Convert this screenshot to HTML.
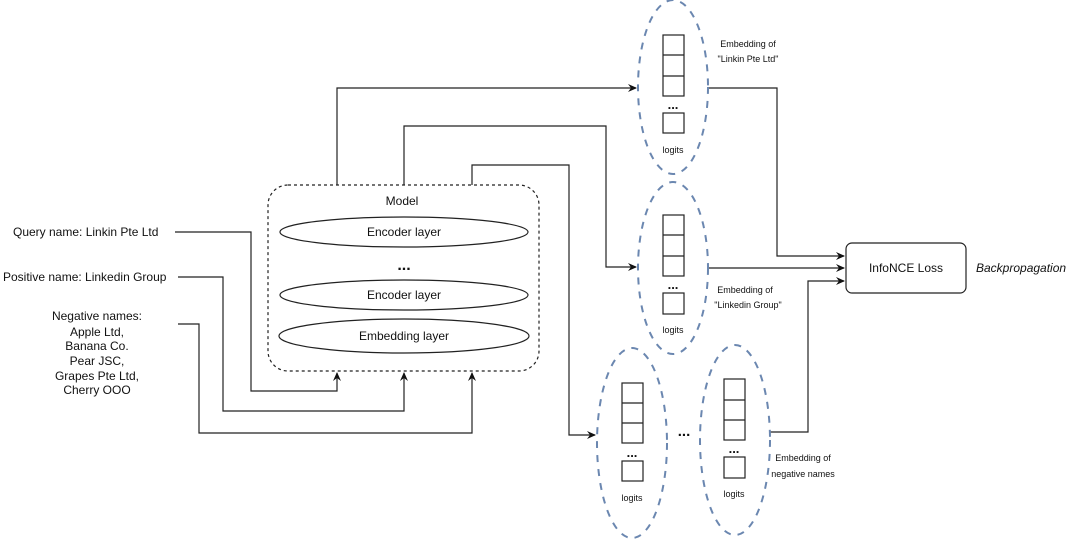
<!DOCTYPE html>
<html><head><meta charset="utf-8"><style>
html,body{margin:0;padding:0;background:#fff;width:1080px;height:540px;overflow:hidden}
svg{display:block}
text{font-family:"Liberation Sans",sans-serif;fill:#111}
</style></head><body>
<svg width="1080" height="540" viewBox="0 0 1080 540" xmlns="http://www.w3.org/2000/svg">
<defs>
<marker id="a" markerWidth="10" markerHeight="10" refX="8" refY="4" orient="auto" markerUnits="userSpaceOnUse">
<path d="M0,0 L9,4 L0,8 L3,4 Z" fill="#111"/></marker>
</defs>
<g fill="none" stroke="#222" stroke-width="1.2">
<!-- model box -->
<rect x="268" y="185" width="271" height="186" rx="20" stroke-dasharray="3,3"/>
<ellipse cx="404" cy="232" rx="124" ry="15"/>
<ellipse cx="404" cy="295" rx="124" ry="15"/>
<ellipse cx="404" cy="336" rx="125" ry="17"/>
<!-- inputs -->
<polyline points="175,232 251,232 251,391 337,391 337,373" marker-end="url(#a)"/>
<polyline points="178,277 223,277 223,411 404,411 404,373" marker-end="url(#a)"/>
<polyline points="178,324 199,324 199,433 472,433 472,373" marker-end="url(#a)"/>
<!-- outputs -->
<polyline points="337,185 337,88 636,88" marker-end="url(#a)"/>
<polyline points="404,185 404,126 606,126 606,267 636,267" marker-end="url(#a)"/>
<polyline points="472,185 472,165 569,165 569,435 595,435" marker-end="url(#a)"/>
<polyline points="708,88 777,88 777,256 844,256" marker-end="url(#a)"/>
<polyline points="708,268 844,268" marker-end="url(#a)"/>
<polyline points="770,432 808,432 808,281 844,281" marker-end="url(#a)"/>
<rect x="846" y="243" width="120" height="50" rx="6"/>
</g>
<g fill="none" stroke="#6b87b0" stroke-width="2" stroke-dasharray="7,7">
<ellipse cx="673" cy="87" rx="35" ry="87"/>
<ellipse cx="673" cy="268" rx="35" ry="86"/>
<ellipse cx="632" cy="443" rx="35" ry="95"/>
<ellipse cx="735" cy="440" rx="35" ry="95"/>
</g>
<g fill="none" stroke="#222" stroke-width="1.2">
<rect x="663" y="35" width="21" height="61"/><line x1="663" y1="55" x2="684" y2="55"/><line x1="663" y1="76" x2="684" y2="76"/>
<rect x="663" y="113" width="21" height="20"/>
<rect x="663" y="215" width="21" height="61"/><line x1="663" y1="235" x2="684" y2="235"/><line x1="663" y1="256" x2="684" y2="256"/>
<rect x="663" y="293" width="21" height="21"/>
<rect x="622" y="383" width="21" height="60"/><line x1="622" y1="403" x2="643" y2="403"/><line x1="622" y1="423" x2="643" y2="423"/>
<rect x="622" y="461" width="21" height="20"/>
<rect x="724" y="379" width="21" height="61"/><line x1="724" y1="400" x2="745" y2="400"/><line x1="724" y1="420" x2="745" y2="420"/>
<rect x="724" y="457" width="21" height="21"/>
</g>
<g font-size="12">
<text x="402" y="205" text-anchor="middle">Model</text>
<text x="404" y="236" text-anchor="middle">Encoder layer</text>
<text x="404" y="299" text-anchor="middle">Encoder layer</text>
<text x="404" y="340" text-anchor="middle">Embedding layer</text>
<text x="404" y="270" text-anchor="middle" font-size="16" font-weight="bold">...</text>
<text x="13" y="236">Query name: Linkin Pte Ltd</text>
<text x="3" y="281">Positive name: Linkedin Group</text>
<g text-anchor="middle">
<text x="97" y="320">Negative names:</text>
<text x="97" y="336">Apple Ltd,</text>
<text x="97" y="350">Banana Co.</text>
<text x="97" y="365">Pear JSC,</text>
<text x="97" y="380">Grapes Pte Ltd,</text>
<text x="97" y="394">Cherry OOO</text>
</g>
<text x="906" y="272" text-anchor="middle">InfoNCE Loss</text>
<text x="976" y="272" font-style="italic">Backpropagation</text>
</g>
<g font-size="9" text-anchor="middle">
<text x="748" y="47">Embedding of</text>
<text x="748" y="62">"Linkin Pte Ltd"</text>
<text x="745" y="293">Embedding of</text>
<text x="748" y="308">"Linkedin Group"</text>
<text x="803" y="461">Embedding of</text>
<text x="803" y="477">negative names</text>
<text x="673" y="153">logits</text>
<text x="673" y="333">logits</text>
<text x="632" y="501">logits</text>
<text x="734" y="497">logits</text>
</g>
<g font-size="13" font-weight="bold" text-anchor="middle">
<text x="673" y="109">...</text>
<text x="673" y="289">...</text>
<text x="632" y="457">...</text>
<text x="734" y="453">...</text>
<text x="684" y="436" font-size="15">...</text>
</g>
</svg>
</body></html>
